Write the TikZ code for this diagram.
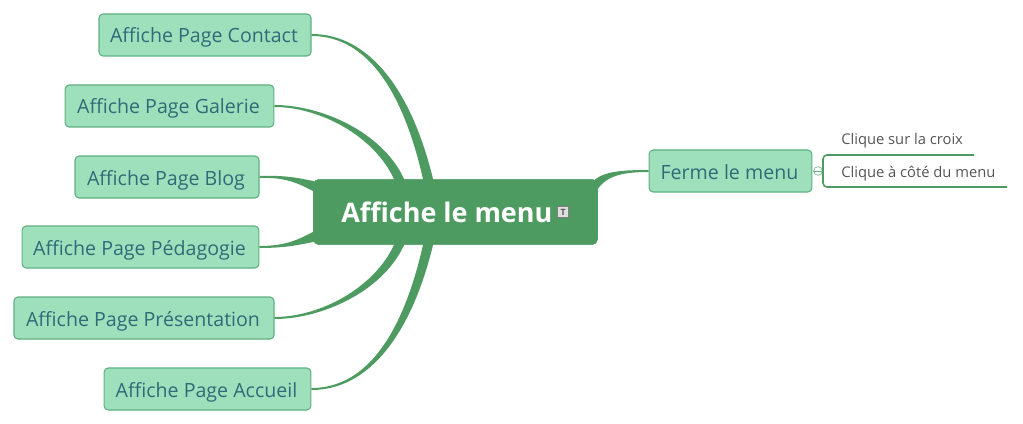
\documentclass[tikz,border=0pt]{standalone}
\usepackage{fontspec}
\setmainfont{Open Sans}
\definecolor{branchgreen}{HTML}{4E9B62}
\definecolor{leaffill}{HTML}{9FE0BC}
\definecolor{leafline}{HTML}{5FAF7F}
\definecolor{leaftext}{HTML}{2F6B78}
\definecolor{subtext}{HTML}{555555}
\tikzset{
    leaf/.style={draw=leafline, fill=leaffill, rounded corners=3pt, line width=0.8pt,
        minimum height=31.5pt, inner sep=0pt, text height=12pt, text depth=0pt,
        text=leaftext, font=\fontsize{14.7}{18}\selectfont, execute at begin node=\hspace*{-1.5pt}},
    subleaf/.style={anchor=base west, inner sep=0pt, text=subtext, font=\fontsize{11.05}{14}\selectfont},
    branch/.style={fill=branchgreen, draw=branchgreen, line width=1.5pt},
}
% tapered branch: start, two controls, two tips on the root box, shift of the inner edge
\newcommand{\taper}[6]{\path[branch] (#1) .. controls (#2) and (#3) .. (#4) -- (#5) .. controls ([shift={(#6)}]#3) and (#2) .. (#1);}
\begin{document}
\begin{tikzpicture}[x=0.75pt, y=-0.75pt]
    \useasboundingbox (0,0) rectangle (1023,424);
    % Root
    \node [fill=branchgreen, draw=branchgreen, rounded corners=4pt, minimum width=213pt, minimum height=49pt,
        inner sep=0pt, text height=15pt, text depth=0pt, text=white,
        font=\fontsize{20.2}{24}\selectfont\bfseries] (root) at (455.5,212)
        {\hspace*{-13pt}Affiche le menu};
    \node [draw=gray, fill=gray!25, minimum size=8pt, inner sep=0pt, text=black!65,
        font=\fontsize{6.5}{7}\selectfont\bfseries] (note) at (563,212) {T};
    % Left side
    \node [leaf, minimum width=159pt] (contact) at (205,35) {Affiche Page Contact};
    \node [leaf, minimum width=156.5pt] (galerie) at (169.5,106) {Affiche Page Galerie};
    \node [leaf, minimum width=138pt] (blog) at (167,177) {Affiche Page Blog};
    \node [leaf, minimum width=177.5pt] (pedagogie) at (140.5,247) {Affiche Page Pédagogie};
    \node [leaf, minimum width=195pt] (presentation) at (144,318) {Affiche Page Présentation};
    \node [leaf, minimum width=155pt] (accueil) at (207.5,389) {Affiche Page Accueil};
    % Right side
    \node [leaf, minimum width=122pt] (ferme) at (730.5,171) {Ferme le menu};
    \node [subleaf] (croix) at (841,145) {Clique sur la croix};
    \node [subleaf] (cote) at (841,177) {Clique à côté du menu};
    \node [circle, draw=leafline, fill=white, minimum size=6.5pt, inner sep=0pt] (toggle) at (818,171) {};
    % Branches
    \taper{contact.east}{370,35}{405,95}{424,179}{432,179}{6,-2}
    \taper{galerie.east}{320,106}{375,135}{395,179}{403,179}{6,-3}
    \taper{blog.east}{285,176}{298,179}{313,182}{313,190}{0,3}
    \taper{pedagogie.east}{285,247}{298,244}{313,241}{313,233}{0,-3}
    \taper{presentation.east}{320,318}{375,289}{395,245}{403,245}{6,3}
    \taper{accueil.east}{370,389}{405,329}{424,245}{432,245}{6,2}
    \taper{ferme.west}{625,171}{606,172}{596,180}{598,187}{2,2}
    % Sub branches
    \coordinate (croixend) at (974,155);
    \coordinate (coteend) at (1007,187);
    \draw [branchgreen, line width=1.2pt, rounded corners=3pt] (croixend) -- (823,155) -- (823,187) -- (coteend);
    \draw [leafline, line width=0.6pt] (toggle.west) -- (toggle.east);
\end{tikzpicture}
\end{document}
